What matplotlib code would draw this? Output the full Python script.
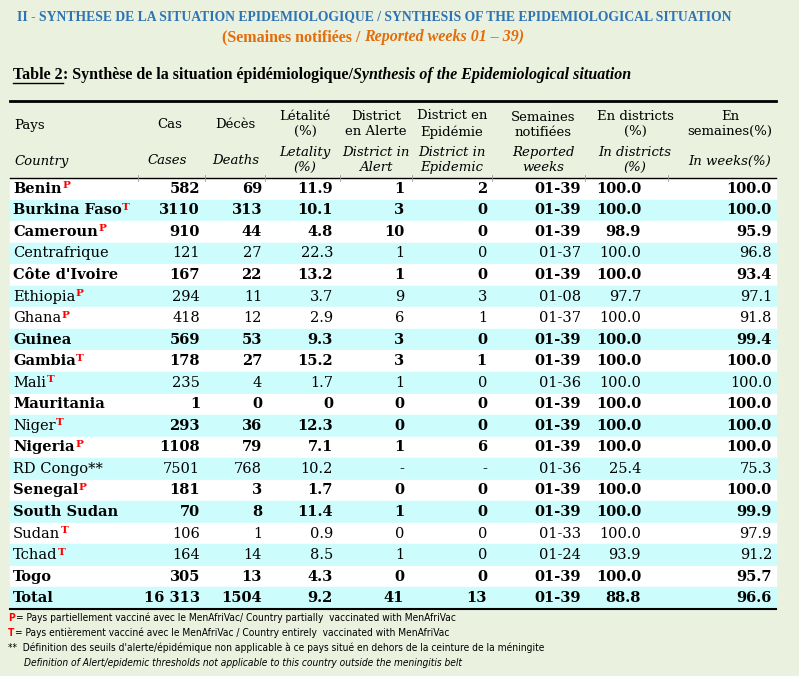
import matplotlib.pyplot as plt
from matplotlib.patches import Rectangle

countries = ["Benin", "Burkina Faso", "Cameroun", "Centrafrique", "Côte d'Ivoire", "Ethiopia",
             "Ghana", "Guinea", "Gambia", "Mali", "Mauritania", "Niger", "Nigeria", "RD Congo**",
             "Senegal", "South Sudan", "Sudan", "Tchad", "Togo", "Total"]
marks = ["P", "T", "P", "", "", "P", "P", "", "T", "T", "", "T", "P", "", "P", "", "T", "T", "", ""]
cases = ["582", "3110", "910", "121", "167", "294", "418", "569", "178", "235", "1", "293", "1108",
         "7501", "181", "70", "106", "164", "305", "16 313"]
deaths = ["69", "313", "44", "27", "22", "11", "12", "53", "27", "4", "0", "36", "79", "768", "3",
          "8", "1", "14", "13", "1504"]
lethality = ["11.9", "10.1", "4.8", "22.3", "13.2", "3.7", "2.9", "9.3", "15.2", "1.7", "0", "12.3",
             "7.1", "10.2", "1.7", "11.4", "0.9", "8.5", "4.3", "9.2"]
alert = ["1", "3", "10", "1", "1", "9", "6", "3", "3", "1", "0", "0", "1", "-", "0", "1", "0", "1",
         "0", "41"]
epidemic = ["2", "0", "0", "0", "0", "3", "1", "0", "1", "0", "0", "0", "6", "-", "0", "0", "0", "0",
            "0", "13"]
weeks = ["01-39", "01-39", "01-39", "01-37", "01-39", "01-08", "01-37", "01-39", "01-39", "01-36",
         "01-39", "01-39", "01-39", "01-36", "01-39", "01-39", "01-33", "01-24", "01-39", "01-39"]
pct_districts = ["100.0", "100.0", "98.9", "100.0", "100.0", "97.7", "100.0", "100.0", "100.0",
                 "100.0", "100.0", "100.0", "100.0", "25.4", "100.0", "100.0", "100.0", "93.9",
                 "100.0", "88.8"]
pct_weeks = ["100.0", "100.0", "95.9", "96.8", "93.4", "97.1", "91.8", "99.4", "100.0", "100.0",
             "100.0", "100.0", "100.0", "75.3", "100.0", "99.9", "97.9", "91.2", "95.7", "96.6"]
bold_name = [True, True, True, False, True, False, False, True, True, False, True, False, True,
             False, True, True, False, False, True, True]
bold_vals = [True, True, True, False, True, False, False, True, True, False, True, True, True,
             False, True, True, False, False, True, True]

BG = "#eaf1de"
CYAN = "#ccfcfc"
BLUE = "#2e74b5"
ORANGE = "#e46c0a"

fig = plt.figure(figsize=(7.99, 6.76), dpi=100, facecolor=BG)
ax = fig.add_axes([0, 0, 1, 1])
ax.set_xlim(0, 799)
ax.set_ylim(676, 0)
ax.axis("off")

ax.text(374, 17, "II - SYNTHESE DE LA SITUATION EPIDEMIOLOGIQUE / SYNTHESIS OF THE EPIDEMIOLOGICAL SITUATION",
        ha="center", va="center", color=BLUE, fontsize=9.8, fontweight="bold", family="Liberation Serif")
t1 = ax.text(222, 37, "(Semaines notifiées / ", ha="left", va="center", color=ORANGE,
             fontsize=11.5, fontweight="bold", family="Liberation Serif")
fig.canvas.draw()
r = fig.canvas.get_renderer()
bb = t1.get_window_extent(r)
ax.text(222 + bb.width, 37, "Reported weeks 01 – 39)", ha="left", va="center", color=ORANGE,
        fontsize=11.5, fontweight="bold", style="italic", family="Liberation Serif")

cap1 = ax.text(13, 75, "Table 2", ha="left", va="center", fontsize=11.5, fontweight="bold",
               family="Liberation Serif")
bb = cap1.get_window_extent(r)
ax.plot([13, 13 + bb.width], [83, 83], color="black", lw=1)
cap2 = ax.text(13 + bb.width, 75, ": Synthèse de la situation épidémiologique/", ha="left",
               va="center", fontsize=11.5, fontweight="bold", family="Liberation Serif")
bb2 = cap2.get_window_extent(r)
ax.text(13 + bb.width + bb2.width, 75, "Synthesis of the Epidemiological situation", ha="left",
        va="center", fontsize=11.5, fontweight="bold", style="italic", family="Liberation Serif")

left, right = 10, 776
row_top = 178
row_h = 21.55
for i in range(len(countries)):
    y0 = row_top + i * row_h
    ax.add_patch(Rectangle((left, y0), right - left, row_h, color=CYAN if i % 2 else "white", zorder=0))
ax.plot([left, right], [101, 101], color="black", lw=2)
ax.plot([left, right], [row_top, row_top], color="black", lw=1)
ax.plot([left, right], [row_top + 20 * row_h, row_top + 20 * row_h], color="black", lw=1.5)

dividers = [138, 205, 265, 340, 412, 492, 585, 668]
for xd in dividers:
    ax.plot([xd, xd], [row_top - 3, row_top + 3], color="#999999", lw=0.6)

hf = dict(fontsize=9.5, family="DejaVu Serif", va="center", ha="center", linespacing=1.25)
hfi = dict(hf, style="italic")
ax.text(14, 125, "Pays", **dict(hf, ha="left"))
ax.text(14, 161, "Country", **dict(hfi, ha="left"))
ax.text(170, 125, "Cas", **hf)
ax.text(167, 161, "Cases", **hfi)
ax.text(235, 125, "Décès", **hf)
ax.text(236, 161, "Deaths", **hfi)
ax.text(305, 124, "Létalité\n(%)", **hf)
ax.text(305, 160, "Letality\n(%)", **hfi)
ax.text(376, 124, "District\nen Alerte", **hf)
ax.text(376, 160, "District in\nAlert", **hfi)
ax.text(452, 124, "District en\nEpidémie", **hf)
ax.text(452, 160, "District in\nEpidemic", **hfi)
ax.text(543, 125, "Semaines\nnotifiées", **hf)
ax.text(543, 160, "Reported\nweeks", **hfi)
ax.text(635, 124, "En districts\n(%)", **hf)
ax.text(635, 160, "In districts\n(%)", **hfi)
ax.text(730, 124, "En\nsemaines(%)", **hf)
ax.text(730, 161, "In weeks(%)", **hfi)

cols = [(cases, 200), (deaths, 262), (lethality, 333), (alert, 404), (epidemic, 487),
        (weeks, 581), (pct_districts, 641), (pct_weeks, 772)]
for i, name in enumerate(countries):
    yc = row_top + (i + 0.5) * row_h
    nm = ax.text(13, yc, name, ha="left", va="center", fontsize=10.5, family="DejaVu Serif",
                 fontweight="bold" if bold_name[i] else "normal")
    if marks[i]:
        nb = nm.get_window_extent(r)
        ax.text(13 + nb.width + 0.5, yc - 3, marks[i], ha="left", va="center", fontsize=7.5,
                color="red", fontweight="bold", family="DejaVu Serif")
    for vals, xr in cols:
        ax.text(xr, yc, vals[i], ha="right", va="center", fontsize=10.5, family="DejaVu Serif",
                fontweight="bold" if bold_vals[i] else "normal")

fn = dict(fontsize=7.3, family="DejaVu Sans", va="center", ha="left", stretch="condensed")
y = 618
ax.text(8, y, "P", color="red", fontweight="bold", **fn)
ax.text(16, y, "= Pays partiellement vacciné avec le MenAfriVac/ Country partially  vaccinated with MenAfriVac", **fn)
ax.text(8, y + 15, "T", color="red", fontweight="bold", **fn)
ax.text(15, y + 15, "= Pays entièrement vacciné avec le MenAfriVac / Country entirely  vaccinated with MenAfriVac", **fn)
ax.text(8, y + 30, "**  Définition des seuils d'alerte/épidémique non applicable à ce pays situé en dehors de la ceinture de la méningite", **fn)
ax.text(24, y + 45, "Definition of Alert/epidemic thresholds not applicable to this country outside the meningitis belt",
        style="italic", **fn)

fig.savefig("out.png", dpi=100, facecolor=BG)
